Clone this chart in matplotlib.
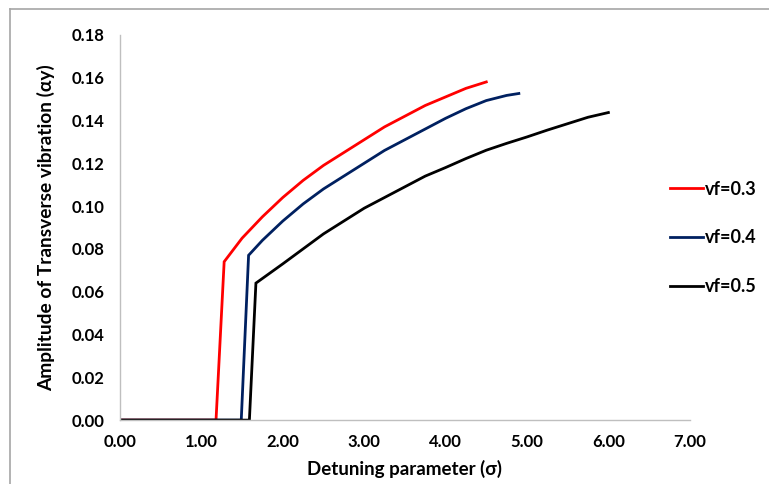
import matplotlib.pyplot as plt
from matplotlib.lines import Line2D

# vf = 0.3
x_03 = [0.0, 1.18, 1.28, 1.4, 1.5, 1.75, 2.0, 2.25, 2.5, 2.75, 3.0, 3.25, 3.5, 3.75, 4.0, 4.25, 4.5]
y_03 = [0.0, 0.0, 0.074, 0.080, 0.085, 0.095, 0.104, 0.112, 0.119, 0.125, 0.131, 0.137, 0.142, 0.147, 0.151, 0.155, 0.158]

# vf = 0.4
x_04 = [0.0, 1.49, 1.58, 1.75, 2.0, 2.25, 2.5, 2.75, 3.0, 3.25, 3.5, 3.75, 4.0, 4.25, 4.5, 4.75, 4.9]
y_04 = [0.0, 0.0, 0.077, 0.084, 0.093, 0.101, 0.108, 0.114, 0.120, 0.126, 0.131, 0.136, 0.141, 0.1455, 0.1493, 0.1517, 0.1526]

# vf = 0.5
x_05 = [0.0, 1.59, 1.67, 2.0, 2.25, 2.5, 2.75, 3.0, 3.25, 3.5, 3.75, 4.0, 4.25, 4.5, 4.75, 5.0, 5.25, 5.5, 5.75, 6.0]
y_05 = [0.0, 0.0, 0.064, 0.073, 0.080, 0.087, 0.093, 0.099, 0.104, 0.109, 0.114, 0.118, 0.1222, 0.1261, 0.1293, 0.1323, 0.1355, 0.1385, 0.1415, 0.1437]

labels = ['vf=0.3', 'vf=0.4', 'vf=0.5']
colors = ['#ff0000', '#002060', '#000000']

plt.rcParams['font.family'] = ['Lato', 'DejaVu Sans']
plt.rcParams['font.weight'] = 'bold'

fig = plt.figure(figsize=(7.69, 4.84), dpi=100)
ax = fig.add_axes([0.156, 0.132, 0.741, 0.796])

for xs, ys, lab, c in zip([x_03, x_04, x_05], [y_03, y_04, y_05], labels, colors):
    ax.plot(xs, ys, color=c, linewidth=2.0, label=lab, solid_joinstyle='miter')

ax.set_xlim(0, 7)
ax.set_ylim(0, 0.18)
ax.set_xticks([i * 1.0 for i in range(8)])
ax.set_yticks([i * 0.02 for i in range(10)])
ax.set_xticklabels(['%.2f' % (i * 1.0) for i in range(8)])
ax.set_yticklabels(['%.2f' % (i * 0.02) for i in range(10)])
ax.tick_params(length=0, labelsize=12)
ax.tick_params(axis='x', pad=10)
ax.tick_params(axis='y', pad=11)
for lab in ax.get_xticklabels() + ax.get_yticklabels():
    lab.set_fontweight('bold')

for s in ['top', 'right']:
    ax.spines[s].set_visible(False)
for s in ['left', 'bottom']:
    ax.spines[s].set_color('#bfbfbf')
    ax.spines[s].set_linewidth(1.0)

ax.set_xlabel('Detuning parameter (σ)', fontsize=13.5, fontweight='bold', labelpad=7)
ax.set_ylabel('Amplitude of Transverse vibration (αy)', fontsize=13.8, fontweight='bold', labelpad=12)

leg = ax.legend(loc='center left', bbox_to_anchor=(0.937, 0.473), frameon=False,
                handlelength=1.8, handletextpad=0.15, labelspacing=1.75,
                prop={'weight': 'bold', 'size': 13})

# outer chart border (left and top edges visible)
fig.add_artist(Line2D([0.013, 0.013], [0.0, 0.981], color='#a6a6a6', linewidth=1.2))
fig.add_artist(Line2D([0.013, 1.0], [0.981, 0.981], color='#a6a6a6', linewidth=1.2))

fig.savefig('out.png', dpi=100)
